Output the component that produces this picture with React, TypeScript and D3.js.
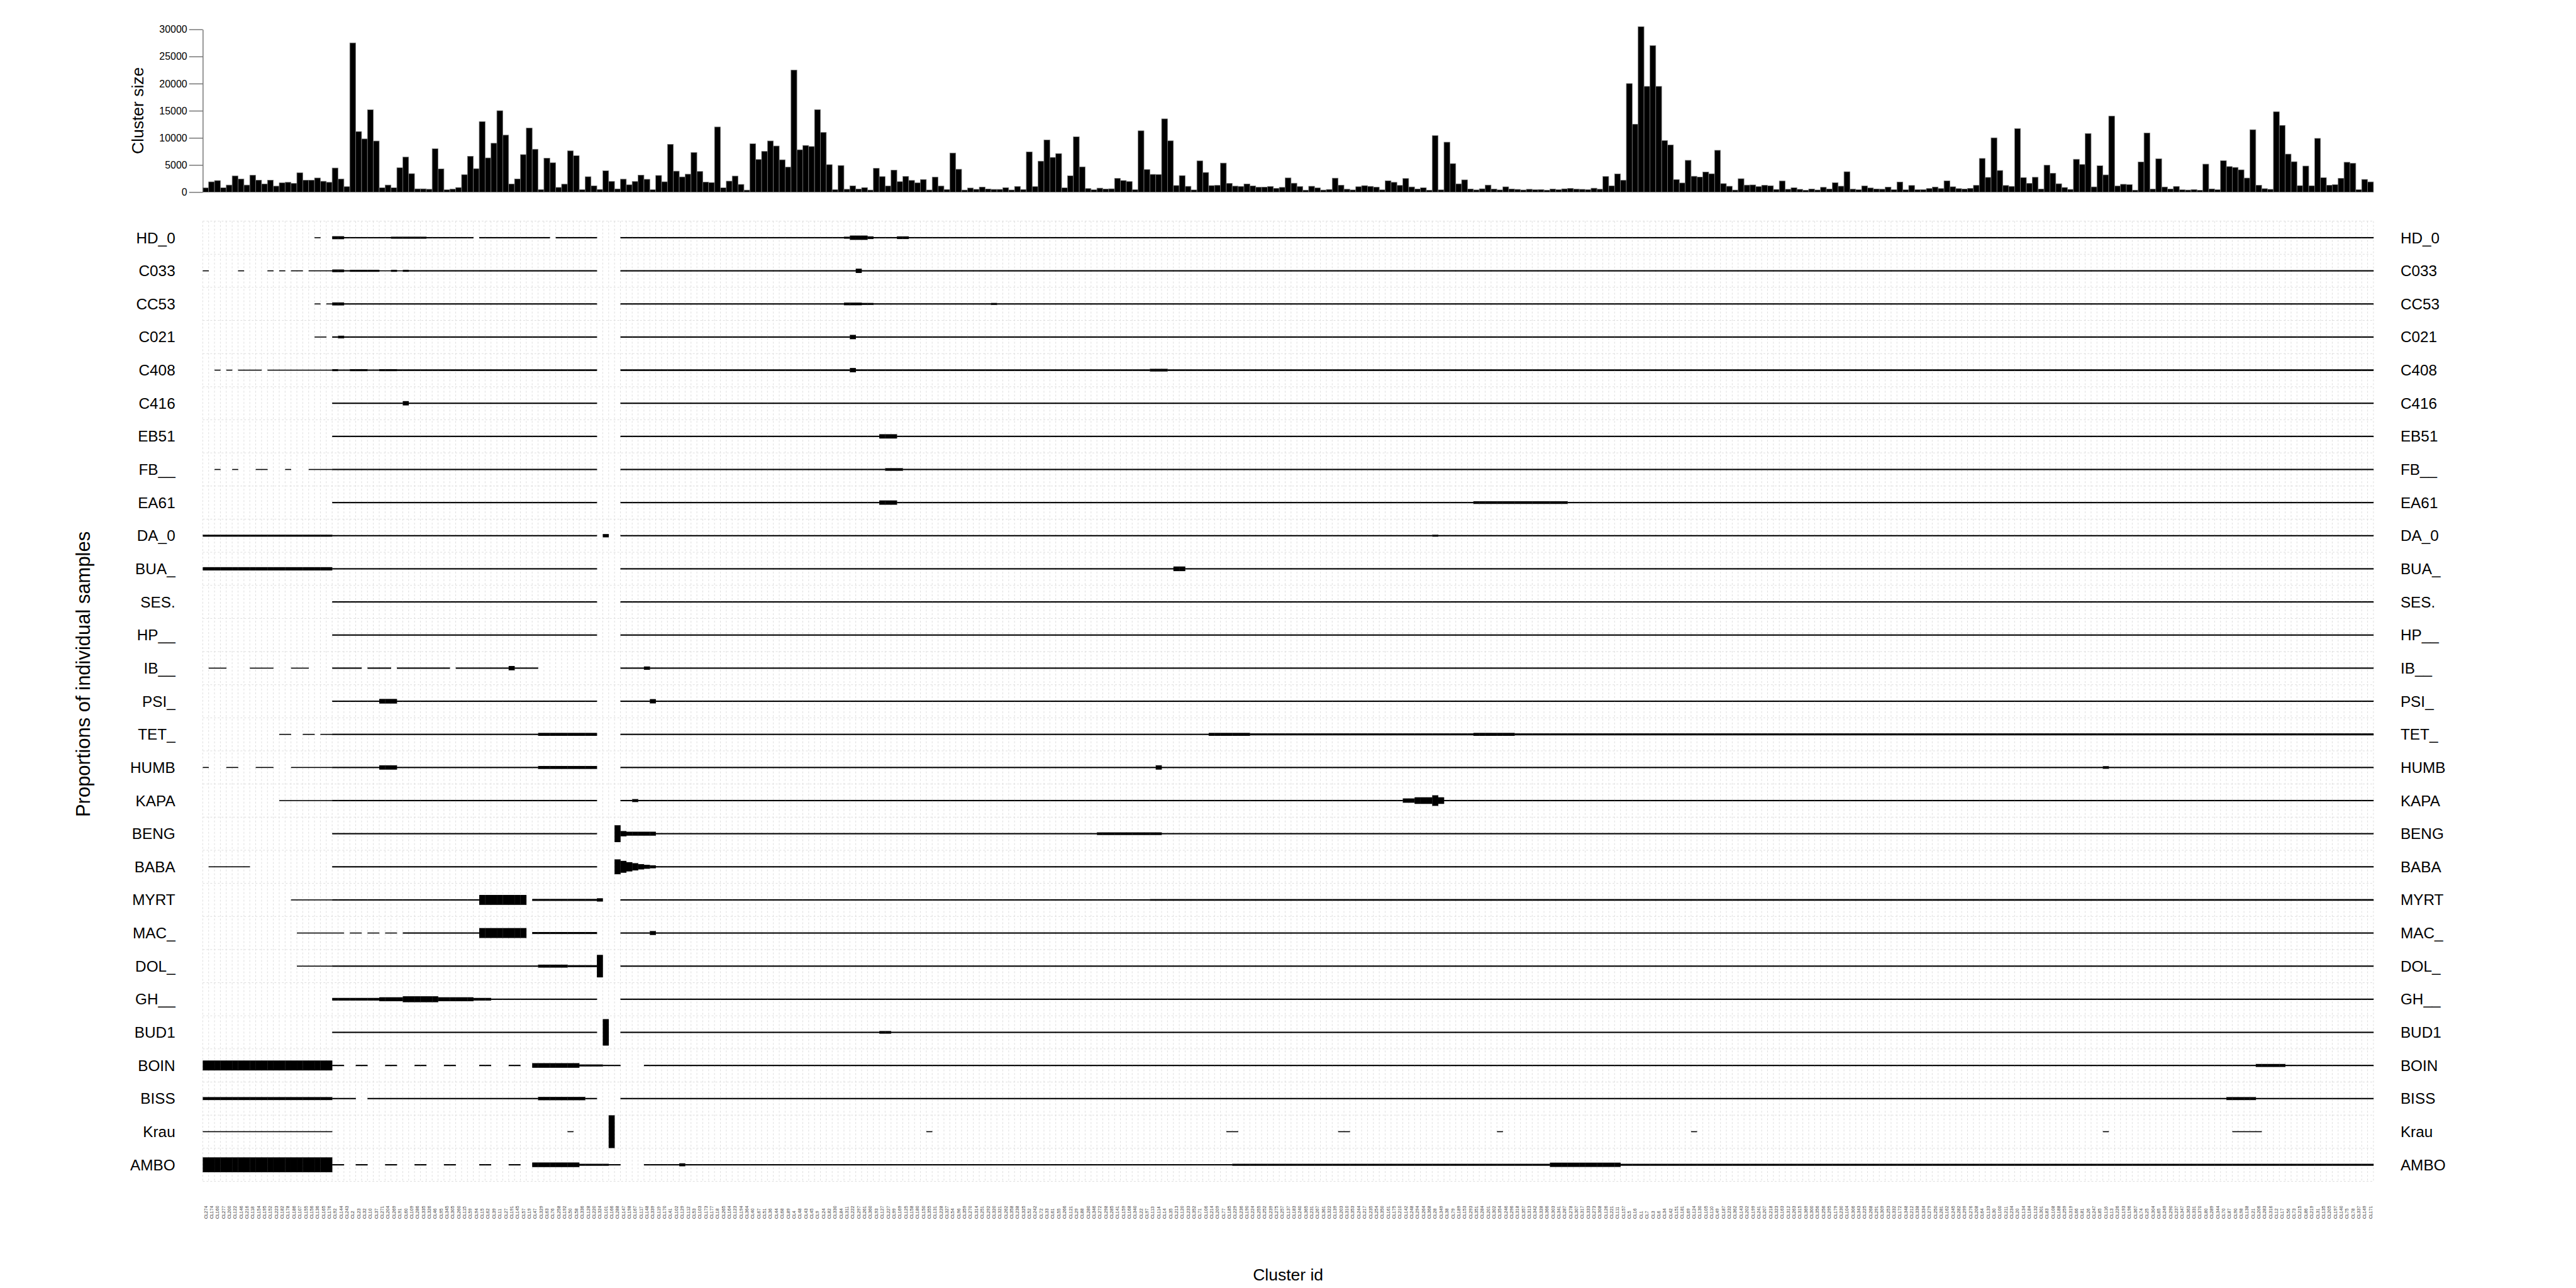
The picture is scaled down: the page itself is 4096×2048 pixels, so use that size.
import React, { useRef, useEffect } from "react";
import * as d3 from "d3";

// cluster order along the x axis
const clusterIds = [
  "CL274","CL174","CL160","CL277","CL200","CL122","CL146","CL216","CL118","CL154","CL195","CL152","CL223","CL182","CL178","CL186","CL107","CL155","CL156","CL136",
  "CL165","CL176","CL92","CL144","CL243","CL2","CL23","CL32","CL10","CL37","CL271","CL204","CL269","CL91","CL60","CL109","CL286","CL335","CL326","CL46",
  "CL95","CL345","CL305","CL260","CL115","CL59","CL94","CL15","CL62","CL39","CL11","CL27","CL191","CL145","CL57","CL19","CL47","CL329","CL63","CL76",
  "CL258","CL192","CL50","CL58","CL336","CL128","CL220","CL324","CL101","CL166","CL288","CL147","CL198","CL167","CL117","CL148","CL339","CL119","CL170","CL41",
  "CL102","CL129","CL112","CL53","CL103","CL173","CL177","CL18","CL265","CL164","CL123","CL194","CL364","CL40","CL67","CL51","CL36","CL44","CL68","CL89",
  "CL4","CL48","CL43","CL45","CL9","CL24","CL82","CL330","CL84","CL311","CL222","CL297","CL261","CL360","CL93","CL127","CL227","CL99","CL169","CL125",
  "CL158","CL180","CL150","CL355","CL131","CL228","CL327","CL54","CL96","CL359","CL270","CL314","CL251","CL292","CL320","CL321","CL262","CL358","CL238","CL325",
  "CL52","CL242","CL72","CL33","CL61","CL55","CL266","CL121","CL29","CL88","CL280","CL346","CL272","CL298","CL285","CL141","CL159","CL168","CL340","CL22",
  "CL97","CL113","CL114","CL14","CL35","CL213","CL120","CL233","CL352","CL71","CL106","CL214","CL209","CL77","CL185","CL229","CL236","CL190","CL224","CL255",
  "CL252","CL239","CL275","CL257","CL137","CL183","CL240","CL365","CL231","CL267","CL361","CL322","CL139","CL203","CL310","CL353","CL244","CL217","CL235","CL254",
  "CL350","CL161","CL175","CL210","CL142","CL248","CL294","CL264","CL368","CL28","CL349","CL38","CL79","CL189","CL153","CL293","CL351","CL284","CL201","CL302",
  "CL354","CL246","CL296","CL318","CL357","CL313","CL342","CL328","CL366","CL303","CL341","CL287","CL278","CL307","CL317","CL333","CL273","CL308","CL126","CL221",
  "CL111","CL157","CL5","CL16","CL1","CL7","CL3","CL6","CL34","CL42","CL151","CL181","CL69","CL124","CL130","CL105","CL110","CL49","CL187","CL232",
  "CL362","CL143","CL202","CL199","CL241","CL207","CL218","CL323","CL163","CL312","CL263","CL315","CL369","CL300","CL356","CL256","CL295","CL179","CL230","CL104",
  "CL306","CL343","CL225","CL268","CL291","CL309","CL253","CL332","CL172","CL348","CL212","CL338","CL334","CL279","CL250","CL281","CL162","CL245","CL282","CL299",
  "CL276","CL208","CL64","CL133","CL30","CL100","CL211","CL234","CL20","CL134","CL184","CL132","CL301","CL83","CL108","CL188","CL259","CL319","CL66","CL81",
  "CL26","CL247","CL85","CL116","CL13","CL226","CL193","CL196","CL367","CL74","CL25","CL304","CL65","CL249","CL290","CL237","CL347","CL363","CL331","CL370",
  "CL80","CL289","CL344","CL70","CL87","CL90","CL98","CL138","CL21","CL206","CL283","CL316","CL12","CL17","CL56","CL73","CL215","CL86","CL219","CL31",
  "CL135","CL205","CL197","CL140","CL75","CL78","CL337","CL149","CL171",
];

// cluster sizes, same order
const clusterSizes = [
  770,1890,2120,800,1300,2970,2400,1300,3100,2200,1500,2200,1100,1700,1800,1600,3550,2200,2200,2600,
  2000,1800,4440,2400,1000,27500,11160,9800,15170,9420,800,1300,800,4480,6450,3400,600,600,520,8000,
  4270,420,540,840,3200,6600,4320,13000,6300,9000,15000,10500,1480,2420,6900,11800,7900,470,6250,5400,
  860,1460,7600,6700,450,2830,1160,490,3920,1980,590,2380,1340,1960,3130,2360,440,3060,1900,8800,
  3860,2800,3300,7300,3800,1840,1760,12000,790,2020,2950,1420,370,8900,6000,7500,9430,8500,5950,4600,
  22500,7800,8600,8400,15200,11000,5050,460,4900,520,1150,570,830,380,4380,2850,1120,4040,1920,2900,
  2150,1700,2320,390,2750,1110,480,7200,4210,380,750,510,930,580,500,500,820,390,1040,480,
  7400,1010,5700,9600,6400,7100,780,3000,10200,4650,650,420,730,560,610,2520,2130,1940,440,11300,
  4150,3270,3240,13500,9450,1210,3040,1070,400,5750,3620,1200,1240,5350,1600,1100,1050,1500,1130,890,
  920,1030,700,870,2610,1640,1020,360,1080,770,380,490,2570,1280,530,400,990,1190,1060,900,
  410,2090,1800,1230,2500,950,580,800,355,10400,410,9200,5250,1520,2250,580,400,610,1290,550,
  400,970,570,500,390,520,430,470,360,550,440,600,680,540,510,460,720,530,2870,1150,
  3350,2170,20000,12500,30500,19500,27000,19500,9500,8700,2300,1680,5850,2920,2780,3700,3380,7700,1560,1080,
  380,2470,1290,1320,1010,1250,1170,490,2040,520,810,510,350,560,390,880,570,1720,1090,3750,
  540,430,1130,760,580,530,910,460,1860,420,1220,440,460,660,935,650,2060,980,640,560,
  690,1240,6200,2710,10000,3980,1220,1060,11700,2680,1620,2730,560,4950,3480,1540,850,500,6050,5100,
  10800,960,4850,3170,14000,1120,1440,1380,360,5550,10900,550,6150,940,580,1050,420,380,470,350,
  5150,590,430,5800,4700,4550,4100,2590,11500,1260,630,510,14800,12300,7000,5600,1190,4800,1170,9900,
  2660,1270,1360,2540,5500,5300,450,2340,1880,
];

const sizeTicks = [0, 5000, 10000, 15000, 20000, 25000, 30000];

const sampleNames = [
  "HD_0","C033","CC53","C021","C408","C416","EB51","FB__","EA61","DA_0",
  "BUA_","SES.","HP__","IB__","PSI_","TET_","HUMB","KAPA","BENG","BABA",
  "MYRT","MAC_","DOL_","GH__","BUD1","BOIN","BISS","Krau","AMBO",
];

// per sample: runs of "count:proportion(% of max)" along the cluster order
const sampleRuns = [
  "19:0 1:3 2:0 2:9 8:4 6:6 8:4 1:0 12:4 1:0 7:4 4:0 38:4 1:6 3:13 1:8 4:4 2:8 249:4",
  "1:3 5:0 1:3 4:0 1:3 1:0 1:3 1:0 2:3 1:0 4:3 2:8 1:4 5:6 2:3 1:6 1:3 1:6 32:4 4:0 40:4 1:13 257:4",
  "19:0 1:3 1:0 1:3 2:9 43:4 4:0 38:4 3:8 2:6 20:4 1:6 234:4",
  "19:0 2:3 1:0 1:4 1:8 43:4 4:0 39:4 1:13 258:4",
  "2:0 1:3 1:0 1:3 1:0 4:3 1:0 11:3 1:6 2:4 3:6 2:4 3:6 34:5 4:0 39:5 1:13 50:5 3:8 205:5",
  "22:0 12:4 1:13 32:4 4:0 298:4",
  "22:0 45:4 4:0 44:4 3:13 251:4",
  "2:0 1:3 2:0 1:3 3:0 2:3 3:0 1:3 3:0 4:3 45:4 4:0 45:4 3:8 250:4",
  "22:0 45:4 4:0 44:4 3:13 98:4 16:8 137:4",
  "22:6 45:4 1:0 1:10 2:0 138:4 1:6 159:4",
  "22:10 45:4 4:0 94:4 2:14 202:4",
  "22:0 45:4 4:0 298:4",
  "22:0 45:4 4:0 298:4",
  "1:0 3:3 4:0 4:3 3:0 3:3 4:0 5:4 1:0 4:4 1:0 9:4 1:0 9:4 1:13 4:4 10:0 4:0 4:4 1:10 293:4",
  "22:0 8:4 3:14 34:4 4:0 5:4 1:13 292:4",
  "13:0 2:3 2:0 2:3 1:0 2:3 35:4 10:9 4:0 100:4 7:9 38:6 7:9 146:6",
  "1:3 3:0 2:3 3:0 3:3 3:0 7:3 8:4 3:13 24:4 10:9 4:0 91:4 1:13 160:4 1:8 45:4",
  "13:0 9:3 45:4 4:0 2:4 1:9 130:4 2:13 3:20 1:32 1:20 158:4",
  "22:0 45:4 3:0 1:51 1:16 5:12 75:4 11:8 206:4",
  "1:0 7:3 14:0 45:4 3:0 1:45 1:36 1:28 1:22 1:16 1:12 1:9 292:4",
  "15:0 7:3 25:4 8:30 1:0 11:6 1:10 3:0 90:4 208:5",
  "16:0 6:3 2:3 1:0 2:3 1:0 2:3 1:0 2:3 1:0 13:4 8:30 1:0 11:6 4:0 5:4 1:12 292:4",
  "16:0 6:3 35:4 5:9 5:6 1:68 3:0 298:4",
  "22:0 8:8 4:12 6:18 6:12 3:8 18:4 4:0 298:4",
  "22:0 45:4 1:0 1:80 2:0 44:4 2:8 252:4",
  "22:30 2:4 2:0 2:4 3:0 2:4 3:0 2:4 3:0 2:4 4:0 2:4 3:0 2:4 2:0 8:14 4:6 3:4 4:0 274:4 5:9 19:4",
  "22:9 4:4 2:0 29:4 8:10 2:4 4:0 273:4 5:9 20:4",
  "22:3 40:0 1:3 4:0 2:0 1:99 1:0 52:0 1:3 50:0 2:3 17:0 2:3 25:0 1:3 32:0 1:3 69:0 1:3 21:0 5:3 19:0",
  "22:45 2:4 2:0 2:4 3:0 2:4 3:0 2:4 3:0 2:4 4:0 2:4 3:0 2:4 2:0 8:14 5:6 2:4 4:0 6:4 1:9 93:4 54:6 12:13 132:6",
];

function decodeRuns(s: string, n: number): number[] {
  const out: number[] = [];
  s.trim().split(/\s+/).forEach((tok) => {
    const [c, v] = tok.split(":").map(Number);
    for (let i = 0; i < c; i++) out.push(v);
  });
  while (out.length < n) out.push(0);
  return out.slice(0, n);
}

const FONT = "'Liberation Sans', Arial, Helvetica, sans-serif";

export default function App() {
  const ref = useRef<SVGSVGElement>(null);

  useEffect(() => {
    const svg = d3.select(ref.current);
    svg.selectAll("*").remove();
    const g = svg.append("g").attr("transform", "scale(0.999)");

    const left = 322.7;
    const right = 3777.7;
    const n = clusterIds.length;

    const x = d3.scaleBand<string>().domain(clusterIds).range([left, right]).padding(0);

    // ---- top: cluster sizes
    const y = d3.scaleLinear().domain([0, 30000]).range([305.7, 46.7]);

    g.append("g")
      .selectAll("rect")
      .data(clusterIds)
      .join("rect")
      .attr("x", (d) => x(d)!)
      .attr("width", x.bandwidth())
      .attr("y", (d, i) => y(clusterSizes[i]))
      .attr("height", (d, i) => y(0) - y(clusterSizes[i]))
      .attr("fill", "#000")
      .attr("stroke", "#7a7a7a")
      .attr("stroke-width", 0.8);

    const yAxis = g
      .append("g")
      .attr("transform", `translate(${left},0)`)
      .call(d3.axisLeft(y).tickValues(sizeTicks).tickSize(21.7).tickSizeOuter(0).tickPadding(3).tickFormat(d3.format("d")));
    yAxis.selectAll("path, line").attr("stroke", "#555").attr("stroke-width", 1.2);
    yAxis.selectAll("text").attr("font-family", FONT).attr("font-size", 16).attr("fill", "#000");

    g.append("text")
      .attr("transform", "translate(228,176) rotate(-90)")
      .attr("text-anchor", "middle")
      .attr("font-family", FONT)
      .attr("font-size", 26.5)
      .text("Cluster size");

    // ---- bottom: sample proportions
    const top = 352;
    const bottom = 1880.3;
    const rows = d3.scaleBand<string>().domain(sampleNames).range([top, bottom]).padding(0);
    const h = d3.scaleLinear().domain([0, 100]).range([0, rows.bandwidth()]);

    const grid = g.append("g").attr("stroke", "#dedede").attr("stroke-width", 1).attr("stroke-dasharray", "3,3");
    grid.selectAll("line.v")
      .data(d3.range(n + 1))
      .join("line")
      .attr("class", "v")
      .attr("x1", (i) => left + i * x.step())
      .attr("x2", (i) => left + i * x.step())
      .attr("y1", top)
      .attr("y2", bottom);
    grid.selectAll("line.h")
      .data(d3.range(sampleNames.length + 1))
      .join("line")
      .attr("class", "h")
      .attr("x1", left)
      .attr("x2", right)
      .attr("y1", (i) => top + i * rows.step())
      .attr("y2", (i) => top + i * rows.step());

    const cells: { s: string; c: string; v: number }[] = [];
    sampleNames.forEach((s, r) => {
      const vals = decodeRuns(sampleRuns[r], n);
      vals.forEach((v, i) => {
        if (v > 0) cells.push({ s, c: clusterIds[i], v });
      });
    });

    g.append("g")
      .selectAll("rect")
      .data(cells)
      .join("rect")
      .attr("x", (d) => x(d.c)!)
      .attr("width", x.bandwidth() + 0.3)
      .attr("y", (d) => rows(d.s)! + rows.bandwidth() / 2 - Math.max(1.5, h(d.v)) / 2)
      .attr("height", (d) => Math.max(1.5, h(d.v)))
      .attr("fill", "#000");

    const labL = g.append("g").attr("font-family", FONT).attr("font-size", 24.4);
    labL.selectAll("text")
      .data(sampleNames)
      .join("text")
      .attr("x", 279)
      .attr("y", (d) => rows(d)! + rows.bandwidth() / 2)
      .attr("dy", "0.35em")
      .attr("text-anchor", "end")
      .text((d) => d);
    const labR = g.append("g").attr("font-family", FONT).attr("font-size", 24.4);
    labR.selectAll("text")
      .data(sampleNames)
      .join("text")
      .attr("x", 3820.7)
      .attr("y", (d) => rows(d)! + rows.bandwidth() / 2)
      .attr("dy", "0.35em")
      .attr("text-anchor", "start")
      .text((d) => d);

    // x tick labels
    g.append("g")
      .attr("font-family", FONT)
      .attr("font-size", 7)
      .attr("fill", "#333")
      .selectAll("text")
      .data(clusterIds)
      .join("text")
      .attr("transform", (d) => `translate(${x(d)! + x.bandwidth() / 2},1940) rotate(-90)`)
      .attr("dy", "0.35em")
      .attr("text-anchor", "start")
      .text((d) => d);

    g.append("text")
      .attr("x", (left + right) / 2)
      .attr("y", 2038)
      .attr("text-anchor", "middle")
      .attr("font-family", FONT)
      .attr("font-size", 26.5)
      .text("Cluster id");

    g.append("text")
      .attr("transform", "translate(143,1073) rotate(-90)")
      .attr("text-anchor", "middle")
      .attr("font-family", FONT)
      .attr("font-size", 31)
      .text("Proportions of individual samples");
  }, []);

  return (
    <svg
      ref={ref}
      width={4096}
      height={2048}
      style={{ position: "absolute", left: 0, top: 0, background: "#fff", display: "block" }}
    />
  );
}
